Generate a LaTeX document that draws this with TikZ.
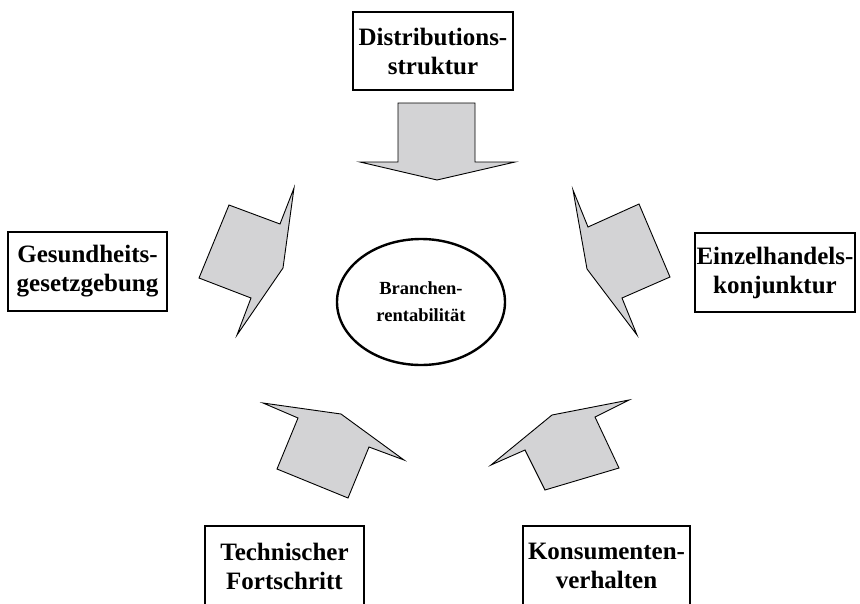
\documentclass[tikz,border=0pt]{standalone}
\usepackage{fontspec}
\setmainfont{Liberation Serif}
\usetikzlibrary{shapes.geometric}
\definecolor{arrowgray}{RGB}{211,211,213}
\begin{document}
\begin{tikzpicture}[x=1pt,y=-1pt,
  factor/.style={draw,line width=2.8pt,align=center,inner sep=0pt,
    font=\bfseries\fontsize{25}{29}\selectfont},
  core/.style={draw,ellipse,line width=2.4pt,align=center,inner sep=0pt,
    font=\bfseries\fontsize{18.5}{27}\selectfont},
  flow/.style={draw,line width=0.9pt,fill=arrowgray,line join=miter}]
\useasboundingbox (0,0) rectangle (860,603);
\clip (0,0) rectangle (860,603);
% factor boxes
\node[factor,minimum width=160pt,minimum height=78pt] (dist) at (433,51) {Distributions-\\struktur};
\node[factor,minimum width=159pt,minimum height=79pt] (ges) at (87.5,271.5) {Gesundheits-\\gesetzgebung};
\node[factor,minimum width=160pt,minimum height=79pt] (ein) at (775,272.5) {Einzelhandels-\\konjunktur};
\node[factor,minimum width=159pt,minimum height=80pt] (tech) at (284.5,566) {Technischer\\Fortschritt};
\node[factor,minimum width=167pt,minimum height=80pt] (kons) at (606.5,566) {Konsumenten-\\verhalten};
% centre
\node[core,minimum width=168pt,minimum height=126pt] (rent) at (421,302) {Branchen-\\rentabilität};
% block arrows
\draw[flow] (398,103) -- (475,103) -- (475,162) -- (515,162) -- (437,180) -- (360,162) -- (398,162) -- cycle;
\draw[flow] (229,205) -- (280,224) -- (294,188) -- (283,268) -- (237,335) -- (251,298) -- (199,278) -- cycle;
\draw[flow] (573,190) -- (588,227) -- (639,204) -- (670,277) -- (622,298) -- (637,335) -- (587,269) -- cycle;
\draw[flow] (263,403) -- (341,414) -- (404,460) -- (369,447) -- (348,498) -- (277,469) -- (298,418) -- cycle;
\draw[flow] (629,400) -- (552,415) -- (491,465) -- (525,450) -- (545,490) -- (619,468) -- (595,417) -- cycle;
\end{tikzpicture}
\end{document}
